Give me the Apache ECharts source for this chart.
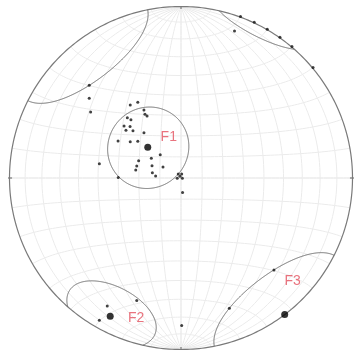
<!DOCTYPE html>
<html>
<head>
<meta charset="utf-8">
<script src="https://cdn.jsdelivr.net/npm/echarts@6/dist/echarts.min.js"></script>
<style>
  html, body { margin: 0; background: #fff; }
  #chart { width: 355px; height: 350px; }
</style>
</head>
<body>
<div id="chart"></div>
<script>
// poles, already projected (equal-area, lower hemisphere): x = east, y = north, primitive = 1
const poleX = [-0.296, -0.252, -0.216, -0.210, -0.198, -0.313, -0.292, -0.332, -0.297, -0.321,
  -0.280, -0.216, -0.367, -0.296, -0.252, -0.121, -0.173, -0.247, -0.258, -0.169,
  -0.105, -0.264, -0.167, -0.148, -0.366, -0.016, 0.004, -0.006, -0.022, 0.008,
  0.009, -0.476, -0.535, -0.535, -0.527, 0.312, 0.347, 0.427, 0.503, 0.577,
  0.647, 0.770, 0.542, 0.282, 0.004, -0.430, -0.476, -0.258];
const poleY = [0.426, 0.441, 0.397, 0.371, 0.362, 0.352, 0.340, 0.303, 0.301, 0.278,
  0.276, 0.264, 0.216, 0.212, 0.214, 0.136, 0.115, 0.101, 0.070, 0.072,
  0.064, 0.047, 0.031, 0.012, 0.003, 0.023, 0.023, 0.010, -0.002, -0.002,
  -0.085, 0.083, 0.541, 0.465, 0.385, 0.857, 0.942, 0.908, 0.868, 0.820,
  0.767, 0.644, -0.536, -0.760, -0.860, -0.746, -0.830, -0.715];

// fold axes (trend / plunge, degrees) and cone half-angles
const foldNames = ['F1', 'F2', 'F3'];
const foldTrend = [312.7, 207.1, 142.8];
const foldPlunge = [68.5, 10.3, 0];
const coneAngle = [19.3, 17.5, 26];
const labelOffset = [[21, -10], [26, 2], [8, -33]];

const gridStep = 10;
const D2R = Math.PI / 180;

// vector is [north, east, down]
function project(v) {
  let [n, e, d] = v;
  if (d < 0) { n = -n; e = -e; d = -d; }
  const k = Math.sqrt(1 / (1 + d));
  return [e * k, n * k];
}
function axisVec(trend, plunge) {
  const t = trend * D2R, p = plunge * D2R;
  return [Math.cos(p) * Math.cos(t), Math.cos(p) * Math.sin(t), Math.sin(p)];
}
function cross(a, b) {
  return [a[1] * b[2] - a[2] * b[1], a[2] * b[0] - a[0] * b[2], a[0] * b[1] - a[1] * b[0]];
}
function norm(a) {
  const l = Math.hypot(a[0], a[1], a[2]);
  return [a[0] / l, a[1] / l, a[2] / l];
}

// net lines
const netLines = [];
for (let a = gridStep; a <= 90; a += gridStep) {
  const c = Math.cos(a * D2R), s = Math.sin(a * D2R);
  // great circles through N and S
  [1, -1].forEach(side => {
    const pts = [];
    for (let t = 0; t <= 180; t += 2) {
      const ct = Math.cos(t * D2R), st = Math.sin(t * D2R);
      pts.push(project([ct, side * st * c, st * s]));
    }
    netLines.push({ coords: pts });
  });
  // small circles round N and S
  [1, -1].forEach(side => {
    const pts = [];
    for (let t = 0; t <= 180; t += 2) {
      pts.push(project([side * c, s * Math.cos(t * D2R), s * Math.sin(t * D2R)]));
    }
    netLines.push({ coords: pts });
  });
}

const primitive = [];
for (let t = 0; t <= 360; t += 1) primitive.push([Math.sin(t * D2R), Math.cos(t * D2R)]);

const ticks = [0, 90, 180, 270].map(t => ({
  coords: [[0.985 * Math.sin(t * D2R), 0.985 * Math.cos(t * D2R)],
           [1.02 * Math.sin(t * D2R), 1.02 * Math.cos(t * D2R)]]
}));

// cones, split where they leave the lower hemisphere
const coneLines = [];
foldNames.forEach((name, i) => {
  const a = axisVec(foldTrend[i], foldPlunge[i]);
  const u = norm(cross(a, Math.abs(a[2]) < 0.9 ? [0, 0, 1] : [1, 0, 0]));
  const v = cross(a, u);
  const ca = Math.cos(coneAngle[i] * D2R), sa = Math.sin(coneAngle[i] * D2R);
  const segs = [];
  let cur = null, sign = 0;
  for (let k = 0; k <= 720; k++) {
    const f = k / 720 * 2 * Math.PI;
    const p = [0, 1, 2].map(j => ca * a[j] + sa * (Math.cos(f) * u[j] + Math.sin(f) * v[j]));
    const sg = p[2] >= 0 ? 1 : -1;
    if (sg !== sign) { cur = { sign: sg, pts: [] }; segs.push(cur); sign = sg; }
    cur.pts.push(project(p));
  }
  if (segs.length > 1 && segs[0].sign === segs[segs.length - 1].sign) {
    const last = segs.pop();
    segs[0].pts = last.pts.concat(segs[0].pts);
  }
  segs.forEach(s => coneLines.push({ coords: s.pts }));
});

const foldPoints = foldNames.map((name, i) => ({
  value: project(axisVec(foldTrend[i], foldPlunge[i])),
  label: { formatter: name, offset: labelOffset[i] }
}));

const chart = echarts.init(document.getElementById('chart'), null, { renderer: 'canvas' });
chart.setOption({
  animation: false,
  grid: { left: 9.5, top: 6.5, width: 343, height: 343 },
  xAxis: { type: 'value', min: -1, max: 1, show: false },
  yAxis: { type: 'value', min: -1, max: 1, show: false },
  series: [
    {
      type: 'lines', coordinateSystem: 'cartesian2d', polyline: true, silent: true,
      lineStyle: { color: '#ebebeb', width: 1, opacity: 1 },
      data: netLines
    },
    {
      type: 'lines', coordinateSystem: 'cartesian2d', polyline: true, silent: true,
      lineStyle: { color: '#7a7a7a', width: 1.2, opacity: 1 },
      data: [{ coords: primitive }].concat(ticks)
    },
    {
      type: 'lines', coordinateSystem: 'cartesian2d', polyline: true, silent: true,
      lineStyle: { color: '#666', width: 1, opacity: 1 },
      data: coneLines
    },
    {
      type: 'scatter', symbolSize: 3, silent: true,
      itemStyle: { color: '#111' },
      data: poleX.map((x, i) => [x, poleY[i]])
    },
    {
      type: 'scatter', symbolSize: 7, silent: true,
      itemStyle: { color: '#000' },
      label: {
        show: true, position: 'inside', color: '#e4505e',
        fontFamily: 'Liberation Sans', fontSize: 14
      },
      data: foldPoints
    }
  ]
});
</script>
</body>
</html>
